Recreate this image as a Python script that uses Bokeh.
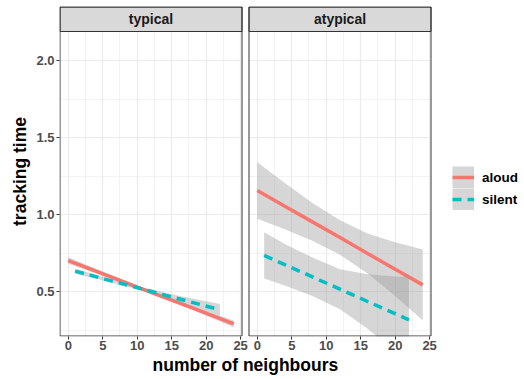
from bokeh.plotting import figure
from bokeh.models import (Range1d, FixedTicker, Label, Legend, LegendItem, Grid, Title,
                          NumeralTickFormatter, CustomJSTickFormatter)
from bokeh.core.properties import value
from bokeh.embed import file_html
from bokeh.resources import INLINE

# ---------------- data ----------------
facets = ["typical", "atypical"]
conditions = ["aloud", "silent"]

x_ticks = [0, 5, 10, 15, 20, 25]
x_minor = [2.5, 7.5, 12.5, 17.5, 22.5]
y_ticks = [0.5, 1.0, 1.5, 2.0]
y_minor = [0.25, 0.75, 1.25, 1.75, 2.25]

# typical / aloud
typ_aloud_x = [0, 6, 12, 18, 24]
typ_aloud_y = [0.701, 0.598, 0.495, 0.393, 0.290]
typ_aloud_lo = [0.680, 0.585, 0.485, 0.380, 0.268]
typ_aloud_hi = [0.722, 0.611, 0.505, 0.406, 0.312]

# typical / silent
typ_silent_x = [1, 6, 11, 16, 22]
typ_silent_y = [0.632, 0.572, 0.513, 0.453, 0.381]
typ_silent_lo = [0.616, 0.561, 0.502, 0.435, 0.343]
typ_silent_hi = [0.648, 0.583, 0.524, 0.473, 0.419]

# atypical / aloud
atyp_aloud_x = [0, 4, 8, 12, 16, 20, 24]
atyp_aloud_y = [1.156, 1.054, 0.952, 0.850, 0.747, 0.645, 0.543]
atyp_aloud_lo = [0.972, 0.904, 0.830, 0.738, 0.617, 0.470, 0.313]
atyp_aloud_hi = [1.340, 1.204, 1.074, 0.962, 0.877, 0.820, 0.773]

# atypical / silent
atyp_silent_x = [1, 4, 8, 12, 16, 20, 22]
atyp_silent_y = [0.734, 0.674, 0.595, 0.515, 0.435, 0.356, 0.316]
atyp_silent_lo = [0.584, 0.539, 0.470, 0.385, 0.258, 0.114, 0.038]
atyp_silent_hi = [0.884, 0.809, 0.720, 0.645, 0.612, 0.598, 0.594]

series = {
    ("typical", "aloud"): (typ_aloud_x, typ_aloud_y, typ_aloud_lo, typ_aloud_hi),
    ("typical", "silent"): (typ_silent_x, typ_silent_y, typ_silent_lo, typ_silent_hi),
    ("atypical", "aloud"): (atyp_aloud_x, atyp_aloud_y, atyp_aloud_lo, atyp_aloud_hi),
    ("atypical", "silent"): (atyp_silent_x, atyp_silent_y, atyp_silent_lo, atyp_silent_hi),
}

# ---------------- layout / style ----------------
FONT = "Liberation Sans"
colors = {"aloud": "#F8766D", "silent": "#00BFC4"}
dashes = {"aloud": "solid", "silent": "9 6"}

W, H = 522, 377
FL, FR = 59, 522            # frame left / right (px); right part hosts the legend
FT, FB = 6, 336             # frame top / bottom (px)
P1L, P2L, PW = 59.5, 248.5, 182.0   # panel left edges and width (px)
X_START, X_END = -1.2, 25.2          # panel data range
PX_PER_X = PW / (X_END - X_START)

# y mapping: 154 px per unit, 0.5 at px 291
def yv(py):
    return 0.5 + (291.0 - py) / 154.0

Y_START, Y_END = yv(FB), yv(FT)
PANEL_BOT, PANEL_TOP, STRIP_TOP = yv(335.5), yv(31.0), yv(6.5)

main_start = X_START - (P1L - FL) / PX_PER_X
p2_start = X_START - (P2L - FL) / PX_PER_X
span = (FR - FL) / PX_PER_X
x_main = Range1d(main_start, main_start + span)
x_p2 = Range1d(p2_start, p2_start + span)
OFF = main_start - p2_start     # main-range coordinate of panel-2 value v is v + OFF

p = figure(width=W, height=H, x_range=x_main, y_range=Range1d(Y_START, Y_END),
           min_border_left=FL, min_border_right=W - FR, min_border_top=FT,
           min_border_bottom=H - FB, toolbar_location=None, output_backend="svg")
p.extra_x_ranges = {"p2": x_p2}
p.background_fill_color = "white"
p.border_fill_color = "white"
p.outline_line_color = None

# grids
def style_grid(g, ticks, minor):
    g.ticker = FixedTicker(ticks=ticks, minor_ticks=minor)
    g.grid_line_color = "#EBEBEB"
    g.grid_line_width = 1.2
    g.minor_grid_line_color = "#EBEBEB"
    g.minor_grid_line_width = 0.6

for g in p.xgrid:
    style_grid(g, x_ticks, x_minor)
for g in p.ygrid:
    style_grid(g, y_ticks, y_minor)
g2 = Grid(dimension=0, x_range_name="p2")
style_grid(g2, x_ticks, x_minor)
p.add_layout(g2, "center")

# panels
line_r = {}
for facet in facets:
    rn = "default" if facet == facets[0] else "p2"
    for cond in conditions:
        xs, ys, lo, hi = series[(facet, cond)]
        p.varea(x=xs, y1=lo, y2=hi, fill_color="#999999", fill_alpha=0.4, x_range_name=rn)
        line_r[(facet, cond)] = p.line(x=xs, y=ys, line_color=colors[cond], line_width=3.5,
                                       line_dash=dashes[cond], x_range_name=rn)

# white space between the panels and to the right of panel 2
p.quad(left=[X_END - OFF, X_END], right=[X_START, x_p2.end + 1],
       bottom=[Y_START, Y_START], top=[Y_END, Y_END],
       fill_color="white", line_color=None, x_range_name="p2")

for facet in facets:
    rn = "default" if facet == facets[0] else "p2"
    p.quad(left=[X_START], right=[X_END], bottom=[PANEL_TOP], top=[STRIP_TOP],
           fill_color="#D9D9D9", line_color="#333333", line_width=1, x_range_name=rn)
    p.quad(left=[X_START], right=[X_END], bottom=[PANEL_BOT], top=[STRIP_TOP],
           fill_color=None, line_color="#333333", line_width=1, x_range_name=rn)
    p.add_layout(Label(x=(X_START + X_END) / 2, y=(PANEL_TOP + STRIP_TOP) / 2, text=facet,
                       x_range_name=rn, text_align="center", text_baseline="middle",
                       text_font=FONT, text_font_style="bold",
                       text_font_size="14px", text_color="#1A1A1A"))

# x axis (ticks for both panels)
xa = p.xaxis[0]
xa.ticker = FixedTicker(ticks=x_ticks + [t + OFF for t in x_ticks])
xa.formatter = CustomJSTickFormatter(args=dict(off=OFF, edge=X_END + 0.5), code="""
    const v = tick > edge ? tick - off : tick;
    return Math.round(v).toString();
""")
xa.axis_line_color = None
xa.major_tick_line_color = "#333333"
xa.major_tick_out = 3
xa.major_tick_in = 0
xa.minor_tick_line_color = None
xa.major_label_standoff = 1
xa.major_label_text_font = FONT
xa.major_label_text_font_style = "bold"
xa.major_label_text_font_size = "13px"
xa.major_label_text_color = "#4D4D4D"

# x-axis title, centred under the two panels
p.add_layout(Title(text="number of neighbours", align="left", offset=93, standoff=0,
                   text_font=FONT, text_font_style="bold", text_font_size="17.5px",
                   text_color="black"), "below")

ya = p.yaxis[0]
ya.ticker = FixedTicker(ticks=y_ticks)
ya.formatter = NumeralTickFormatter(format="0.0")
ya.axis_line_color = None
ya.major_tick_line_color = "#333333"
ya.major_tick_out = 3
ya.major_tick_in = 0
ya.minor_tick_line_color = None
ya.major_label_standoff = 2
ya.major_label_text_font = FONT
ya.major_label_text_font_style = "bold"
ya.major_label_text_font_size = "13px"
ya.major_label_text_color = "#4D4D4D"
ya.axis_label = "tracking time"
ya.axis_label_text_font = FONT
ya.axis_label_text_font_style = "bold"
ya.axis_label_text_font_size = "17.5px"
ya.axis_label_text_color = "black"
ya.axis_label_standoff = 3

# legend: gray key background (thick line glyph, drawn off-plot) + coloured line
key_bg = p.line(x=[X_START - 50, X_START - 49], y=[Y_START - 5, Y_START - 5],
                line_color="#999999", line_alpha=0.4, line_width=22)
legend = Legend(items=[LegendItem(label=value(c), renderers=[key_bg, line_r[(facets[1], c)]])
                       for c in conditions],
                location=(452 - FL, FB - 210), glyph_width=22, glyph_height=22,
                label_standoff=8, padding=0, margin=0, spacing=0,
                border_line_color=None, background_fill_alpha=0,
                label_text_font=FONT, label_text_font_style="bold",
                label_text_font_size="13.5px", label_text_color="black")
p.add_layout(legend, "center")

open("out.html", "w").write(file_html(p, INLINE))
